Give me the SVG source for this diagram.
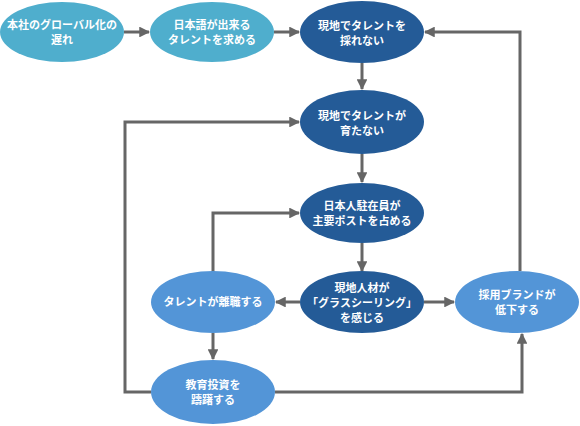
<svg xmlns="http://www.w3.org/2000/svg" width="580" height="426" viewBox="0 0 580 426">
<style>
.t{font-family:"Noto Sans CJK JP","Noto Sans CJK SC",sans-serif;font-size:11px;font-weight:bold;fill:#fff;text-anchor:middle}
.c{fill:none;stroke:#666;stroke-width:3}
.a{fill:#4FAECD}.d{fill:#245B97}.m{fill:#5395D7}
</style>
<defs>
<marker id="ah" viewBox="0 0 10 10" refX="9" refY="5" markerWidth="3.6" markerHeight="3.6" orient="auto" markerUnits="strokeWidth">
<path d="M0,0 L10,5 L0,10 Z" fill="#666"/>
</marker>
</defs>
<g id="connectors">
<path class="c" d="M124,32 H149" marker-end="url(#ah)"/>
<path class="c" d="M274,32 H299" marker-end="url(#ah)"/>
<path class="c" d="M362,63 V89" marker-end="url(#ah)"/>
<path class="c" d="M362,154 V182" marker-end="url(#ah)"/>
<path class="c" d="M362,243 V271" marker-end="url(#ah)"/>
<path class="c" d="M300,302 H276" marker-end="url(#ah)"/>
<path class="c" d="M424,302 H454" marker-end="url(#ah)"/>
<path class="c" d="M213,272 V213 H299" marker-end="url(#ah)"/>
<path class="c" d="M213,333 V359" marker-end="url(#ah)"/>
<path class="c" d="M151,392 H125 V122 H299" marker-end="url(#ah)"/>
<path class="c" d="M275,392 H522 V334" marker-end="url(#ah)"/>
<path class="c" d="M520,271 V32 H425" marker-end="url(#ah)"/>
</g>
<g id="n1"><ellipse class="a" cx="62" cy="32" rx="62" ry="30"/><text class="t" x="62" y="29">本社のグローバル化の</text><text class="t" x="62" y="44">遅れ</text></g>
<g id="n2"><ellipse class="a" cx="212" cy="32" rx="62" ry="30"/><text class="t" x="212" y="29">日本語が出来る</text><text class="t" x="212" y="44">タレントを求める</text></g>
<g id="n3"><ellipse class="d" cx="362" cy="32" rx="62" ry="31"/><text class="t" x="362" y="30">現地でタレントを</text><text class="t" x="362" y="45">採れない</text></g>
<g id="n4"><ellipse class="d" cx="362" cy="122" rx="62" ry="32"/><text class="t" x="362" y="120">現地でタレントが</text><text class="t" x="362" y="135">育たない</text></g>
<g id="n5"><ellipse class="d" cx="362" cy="213" rx="62" ry="30"/><text class="t" x="362" y="210">日本人駐在員が</text><text class="t" x="362" y="225">主要ポストを占める</text></g>
<g id="n6"><ellipse class="d" cx="362" cy="302" rx="62" ry="31"/><text class="t" x="362" y="292">現地人材が</text><text class="t" x="362" y="307">「グラスシーリング」</text><text class="t" x="362" y="322">を感じる</text></g>
<g id="n7"><ellipse class="m" cx="213" cy="302" rx="62" ry="31"/><text class="t" x="213" y="306">タレントが離職する</text></g>
<g id="n8"><ellipse class="m" cx="213" cy="392" rx="62" ry="32"/><text class="t" x="213" y="389">教育投資を</text><text class="t" x="213" y="404">躊躇する</text></g>
<g id="n9"><ellipse class="m" cx="517" cy="302" rx="62" ry="31"/><text class="t" x="517" y="299">採用ブランドが</text><text class="t" x="517" y="314">低下する</text></g>
</svg>
